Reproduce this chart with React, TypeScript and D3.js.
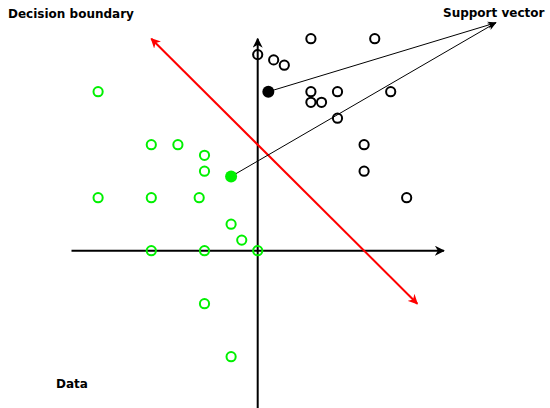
import React from "react";
import * as d3 from "d3";

const W = 550;
const H = 408;

// Class A (green, left side)
const greenX = [-6, -4, -3, -2, -2, -6, -4, -2.2, -1, -0.6, -4, -2, 0, -2, -1];
const greenY = [6, 4, 4, 3.6, 3, 2, 2, 2, 1, 0.4, 0, 0, 0, -2, -4];
// Class B (black, right side)
const blackX = [0, 0.6, 1, 2, 4.4, 2, 3, 5, 2, 2.4, 3, 4, 4, 5.6];
const blackY = [7.4, 7.2, 7, 8, 8, 6, 6, 6, 5.6, 5.6, 5, 4, 3, 2];
// Support vectors (filled)
const supportGreen = [-1, 2.8];
const supportBlack = [0.4, 6];
// Label apex for "Support vector" pointers
const apex = [8.95, 8.6];
// Decision boundary end points (y = 4 - x)
const boundaryX = [6, -4];
const boundaryY = [-2, 8];
// Axis extents
const xExtent = [-7, 7];
const yExtent = [-6, 8];

const GREEN = "#00f000";

export default function App() {
  const x = d3.scaleLinear().domain([-7, 7]).range([71.5, 443.9]);
  const y = d3.scaleLinear().domain([-6, 8]).range([409.7, 38.7]);
  const line = d3.line<[number, number]>().x((d) => x(d[0])).y((d) => y(d[1]));

  const font = "'DejaVu Sans', sans-serif";

  return (
    <svg width={W} height={H} style={{ position: "absolute", left: 0, top: 0 }}>
      <defs>
        <marker id="axArrow" viewBox="0 0 10 10" refX="9" refY="5" markerWidth="5" markerHeight="5" orient="auto" markerUnits="strokeWidth">
          <path d="M0,0 L10,5 L0,10 L3,5 Z" fill="#000" />
        </marker>
        <marker id="redArrow" viewBox="0 0 10 10" refX="9" refY="5" markerWidth="5" markerHeight="5" orient="auto-start-reverse" markerUnits="strokeWidth">
          <path d="M0,0 L10,5 L0,10 L3,5 Z" fill="#ff0000" />
        </marker>
        <marker id="thinArrow" viewBox="0 0 10 10" refX="9" refY="5" markerWidth="9" markerHeight="9" orient="auto" markerUnits="strokeWidth">
          <path d="M0,1 L10,5 L0,9 L3,5 Z" fill="#000" />
        </marker>
      </defs>
      <rect width={W} height={H} fill="#fff" />
      {/* axes */}
      <path d={line([[xExtent[0], 0], [xExtent[1], 0]])!} stroke="#000" strokeWidth={2} fill="none" markerEnd="url(#axArrow)" />
      <path d={line([[0, yExtent[0]], [0, yExtent[1]]])!} stroke="#000" strokeWidth={2} fill="none" markerEnd="url(#axArrow)" />
      {/* decision boundary, double arrow */}
      <path
        d={line([[boundaryX[0], boundaryY[0]], [boundaryX[1], boundaryY[1]]])!}
        stroke="#ff0000"
        strokeWidth={2}
        fill="none"
        markerEnd="url(#redArrow)"
        markerStart="url(#redArrow)"
      />
      {/* support vector pointers */}
      <path d={line([[supportBlack[0], supportBlack[1]], [apex[0], apex[1]]])!} stroke="#000" strokeWidth={1} fill="none" markerEnd="url(#thinArrow)" />
      <path d={line([[supportGreen[0], supportGreen[1]], [apex[0], apex[1]]])!} stroke="#000" strokeWidth={1} fill="none" markerEnd="url(#thinArrow)" />
      {/* data */}
      {greenX.map((v, i) => (
        <circle key={"g" + i} cx={x(v)} cy={y(greenY[i])} r={4.6} fill="none" stroke={GREEN} strokeWidth={2} />
      ))}
      {blackX.map((v, i) => (
        <circle key={"b" + i} cx={x(v)} cy={y(blackY[i])} r={4.6} fill="none" stroke="#000" strokeWidth={2} />
      ))}
      <circle cx={x(supportGreen[0])} cy={y(supportGreen[1])} r={6} fill={GREEN} />
      <circle cx={x(supportBlack[0])} cy={y(supportBlack[1])} r={6} fill="#000" />
      {/* labels */}
      <text x={8} y={18} fontFamily={font} fontWeight="bold" fontSize={12} fill="#000">Decision boundary</text>
      <text x={443} y={16.5} fontFamily={font} fontWeight="bold" fontSize={12} fill="#000">Support vector</text>
      <text x={56} y={388} fontFamily={font} fontWeight="bold" fontSize={12} fill="#000">Data</text>
    </svg>
  );
}
